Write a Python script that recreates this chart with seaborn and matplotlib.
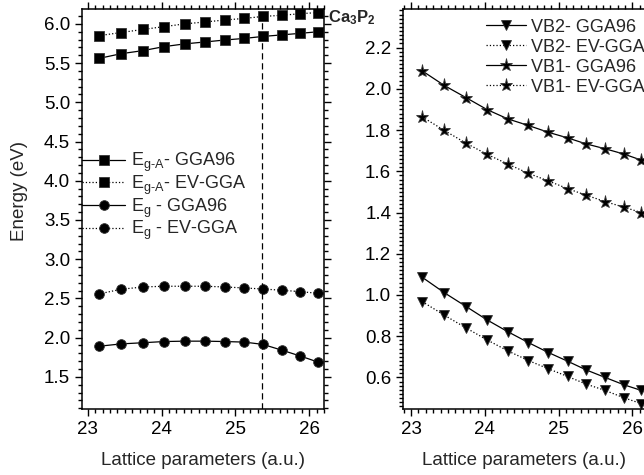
import matplotlib
matplotlib.use("Agg")
import matplotlib.pyplot as plt
import seaborn as sns
import numpy as np
from matplotlib.ticker import MultipleLocator, FormatStrFormatter

sns.set_style("ticks")
plt.rcParams['font.family'] = ['Liberation Sans', 'DejaVu Sans']
plt.rcParams['mathtext.fontset'] = 'custom'
plt.rcParams['mathtext.rm'] = 'Liberation Sans'
plt.rcParams['mathtext.it'] = 'Liberation Sans'
plt.rcParams['mathtext.bf'] = 'Liberation Sans:bold'

# ---- data ----
lattice = [23.15, 23.45, 23.75, 24.03, 24.31, 24.59, 24.86, 25.12, 25.37, 25.63, 25.88, 26.12]

ega_gga96 = [5.56, 5.62, 5.66, 5.71, 5.745, 5.77, 5.795, 5.815, 5.84, 5.86, 5.88, 5.90]
ega_evgga = [5.85, 5.89, 5.93, 5.965, 6.00, 6.025, 6.05, 6.07, 6.095, 6.11, 6.13, 6.145]
eg_gga96 = [1.89, 1.92, 1.935, 1.95, 1.955, 1.955, 1.95, 1.943, 1.914, 1.84, 1.765, 1.688]
eg_evgga = [2.557, 2.617, 2.646, 2.655, 2.655, 2.655, 2.646, 2.633, 2.62, 2.604, 2.586, 2.565]

vb2_gga96 = [1.086, 1.011, 0.943, 0.879, 0.822, 0.769, 0.721, 0.679, 0.637, 0.600, 0.565, 0.537]
vb2_evgga = [0.968, 0.902, 0.839, 0.782, 0.729, 0.682, 0.642, 0.605, 0.568, 0.537, 0.502, 0.473]
vb1_gga96 = [2.087, 2.016, 1.956, 1.899, 1.854, 1.822, 1.789, 1.762, 1.733, 1.709, 1.684, 1.654]
vb1_evgga = [1.864, 1.798, 1.735, 1.682, 1.635, 1.590, 1.553, 1.516, 1.484, 1.453, 1.426, 1.400]

a_exp = 25.36

left_labels = [r'E$_{\mathrm{g‐A}}$- GGA96', r'E$_{\mathrm{g‐A}}$- EV-GGA',
               r'E$_{\mathrm{g}}$ - GGA96', r'E$_{\mathrm{g}}$ - EV-GGA']
right_labels = ['VB2- GGA96', 'VB2- EV-GGA', 'VB1- GGA96', 'VB1- EV-GGA']

fig = plt.figure(figsize=(6.44, 4.75), dpi=100)
axL = fig.add_axes([82/644, 66/475, 242/644, 400/475])
axR = fig.add_axes([403/644, 66/475, 242/644, 400/475])

def draw(ax, y, marker, ls, label, ms):
    sns.lineplot(x=lattice, y=y, ax=ax, color='black', marker=marker, linestyle=ls,
                 linewidth=0.9, markersize=ms, markeredgecolor='#333333',
                 markeredgewidth=0.6, label=label, sort=False)

draw(axL, ega_gga96, 's', '-', left_labels[0], 6.5)
draw(axL, ega_evgga, 's', ':', left_labels[1], 6.5)
draw(axL, eg_gga96, 'o', '-', left_labels[2], 7)
draw(axL, eg_evgga, 'o', ':', left_labels[3], 7)
axL.axvline(a_exp, color='black', linestyle=(0, (5, 3)), linewidth=0.9)

draw(axR, vb2_gga96, 'v', '-', right_labels[0], 7.5)
draw(axR, vb2_evgga, 'v', ':', right_labels[1], 7.5)
draw(axR, vb1_gga96, '*', '-', right_labels[2], 9.5)
draw(axR, vb1_evgga, '*', ':', right_labels[3], 9.5)

axL.set_xlim(22.92, 26.2)
axL.set_ylim(1.09, 6.19)
axR.set_xlim(22.89, 26.17)
axR.set_ylim(0.447, 2.387)

for ax in (axL, axR):
    ax.xaxis.set_major_locator(MultipleLocator(1))
    ax.xaxis.set_minor_locator(MultipleLocator(0.1))
    ax.tick_params(which='both', direction='out', top=True, right=True,
                   labelsize=13.5, width=1, colors='black')
    ax.tick_params(which='major', length=5)
    ax.tick_params(which='minor', length=3)
    for s in ax.spines.values():
        s.set_linewidth(1.1)
        s.set_color('black')
    ax.set_xlabel('Lattice parameters (a.u.)', fontsize=13.5, labelpad=10)

axL.yaxis.set_major_locator(MultipleLocator(0.5))
axL.yaxis.set_minor_locator(MultipleLocator(0.1))
axL.yaxis.set_major_formatter(FormatStrFormatter('%.1f'))
axR.yaxis.set_major_locator(MultipleLocator(0.2))
axR.yaxis.set_minor_locator(MultipleLocator(0.02))
axR.yaxis.set_major_formatter(FormatStrFormatter('%.1f'))
axL.set_ylabel('Energy (eV)', fontsize=13.5)
axL.yaxis.set_label_coords(-0.225, 0.545)

axL.legend(loc='center left', bbox_to_anchor=(0.0, 0.531), frameon=False,
           fontsize=13, handlelength=2.4, handletextpad=0.3, labelspacing=-0.02,
           borderpad=0, borderaxespad=0)
axR.legend(loc='upper right', bbox_to_anchor=(1.0, 0.976), frameon=False,
           fontsize=13, handlelength=2.2, handletextpad=0.3, labelspacing=0.17,
           borderpad=0, borderaxespad=0)

fig.text(328/644, 1 - 18/475, r'$\mathbf{Ca_3P_2}$', fontsize=12, ha='left', va='center')

fig.savefig('out.png', dpi=100)
